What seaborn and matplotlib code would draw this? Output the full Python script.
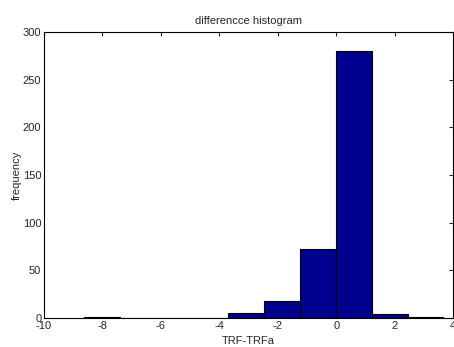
import matplotlib
matplotlib.use("Agg")
import matplotlib.pyplot as plt
import numpy as np
import seaborn as sns

# histogram: 10 equal bins from about -8.63 to 3.67
bin_edges = [-8.63, -7.40, -6.17, -4.94, -3.71, -2.48, -1.25, -0.02, 1.21, 2.44, 3.67]
counts = [1, 0, 0, 0, 5, 18, 72, 280, 4, 1]
x_ticks = [-10, -8, -6, -4, -2, 0, 2, 4]
y_ticks = [0, 50, 100, 150, 200, 250, 300]

centers = [(a + b) / 2 for a, b in zip(bin_edges[:-1], bin_edges[1:])]

sns.set_style("white")
plt.rcParams['font.family'] = ['Liberation Sans', 'DejaVu Sans']
plt.rcParams['axes.unicode_minus'] = False

fig = plt.figure(figsize=(4.54, 3.47), dpi=100)
ax = fig.add_axes([0.097, 0.084, 0.901, 0.824])

sns.histplot(x=centers, weights=counts, bins=bin_edges, color="#00008F",
             edgecolor="black", linewidth=0.8, alpha=1, ax=ax)

ax.set_xlim(-10, 4)
ax.set_ylim(0, 300)
ax.set_xticks(x_ticks)
ax.set_yticks(y_ticks)
ax.tick_params(direction="in", length=3, width=0.8, labelsize=8,
               top=True, right=True, pad=2)
for s in ax.spines.values():
    s.set_linewidth(0.8)
    s.set_color("black")

ax.set_title("differencce histogram", fontsize=8, pad=6)
ax.set_xlabel("TRF-TRFa", fontsize=8, labelpad=4)
ax.set_ylabel("frequency", fontsize=8, labelpad=1)

fig.savefig("out.png", dpi=100)
